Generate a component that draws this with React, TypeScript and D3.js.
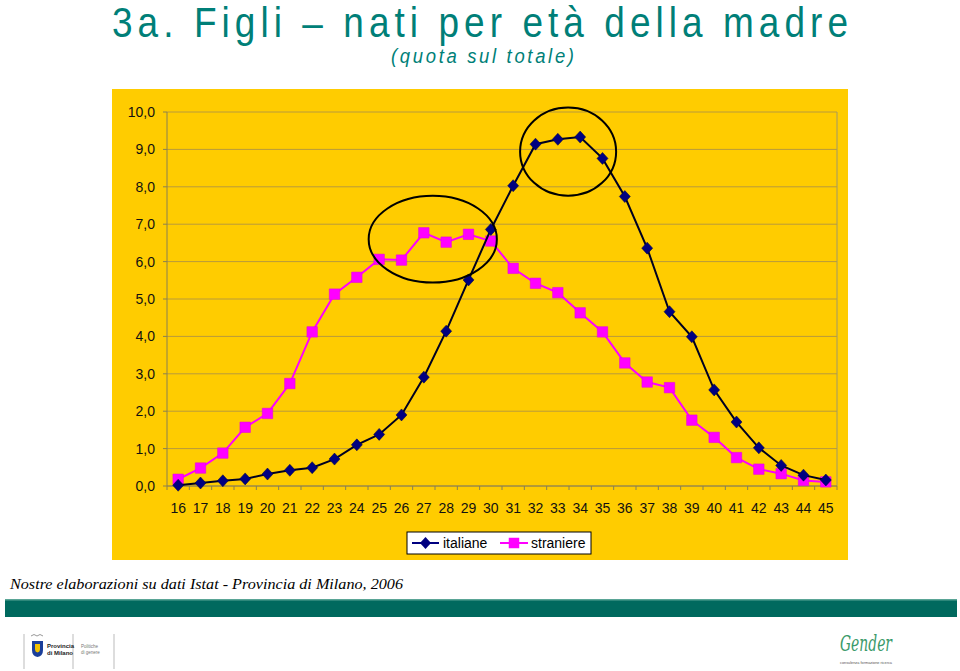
import React from "react";
import { scaleLinear, line, symbol, symbolSquare } from "d3";

const ages = [16, 17, 18, 19, 20, 21, 22, 23, 24, 25, 26, 27, 28, 29, 30, 31, 32, 33, 34, 35, 36, 37, 38, 39, 40, 41, 42, 43, 44, 45];
const italiane = [0.02, 0.08, 0.14, 0.19, 0.32, 0.42, 0.49, 0.72, 1.1, 1.38, 1.9, 2.91, 4.14, 5.51, 6.86, 8.03, 9.14, 9.27, 9.33, 8.76, 7.74, 6.36, 4.66, 3.99, 2.57, 1.71, 1.02, 0.55, 0.29, 0.16];
const straniere = [0.18, 0.48, 0.88, 1.57, 1.94, 2.74, 4.12, 5.13, 5.58, 6.06, 6.04, 6.77, 6.52, 6.73, 6.55, 5.82, 5.42, 5.17, 4.63, 4.12, 3.29, 2.78, 2.63, 1.76, 1.3, 0.76, 0.45, 0.33, 0.15, 0.11];
const yTicks = [0, 1, 2, 3, 4, 5, 6, 7, 8, 9, 10];
// hand-drawn circles: centre (age, value) and radii in the same units
const highlights = [
  { age: 27.4, value: 6.6, rAge: 2.87, rValue: 1.16 },
  { age: 33.46, value: 8.94, rAge: 2.15, rValue: 1.18 },
];

const W = 960;
const H = 671;
const plot = { left: 167, right: 837, top: 112, bottom: 486 };
const teal = "#007f78";
const yellow = "#ffcc00";
const grid = "#b89a3c";
const axisCol = "#8a8050";
const narrow = 0.88; // no Arial Narrow installed, so squeeze horizontally

const x = scaleLinear().domain([15.5, 45.5]).range([plot.left, plot.right]);
const y = scaleLinear().domain([0, 10]).range([plot.bottom, plot.top]);

const fmt = (v: number) => v.toFixed(1).replace(".", ",");
// Excel-like diamond marker, a little wider than d3's
const diamond = "M0,-6L5.5,0L0,6L-5.5,0Z";

export default function App() {
  const lineFn = line<number>()
    .x((_, i) => x(ages[i]))
    .y((d) => y(d));
  const square = symbol().type(symbolSquare).size(110)() as string;

  return (
    <svg
      width={W}
      height={H}
      style={{ position: "absolute", left: 0, top: 0, background: "#fff" }}
      fontFamily="'Liberation Sans', Arial, sans-serif"
    >
      <rect width={W} height={H} fill="#fff" />
      <g transform={`translate(112,37) scale(${narrow},1)`}>
        <text x={0} y={0} fontSize={42} fill={teal} textLength={736 / narrow} lengthAdjust="spacing">
          3a. Figli – nati per età della madre
        </text>
      </g>
      <g transform="translate(391,63) scale(0.88,1)">
        <text
          x={0}
          y={0}
          fontSize={21}
          fontStyle="italic"
          fill={teal}
          textLength={183 / 0.88}
          lengthAdjust="spacing"
        >
          (quota sul totale)
        </text>
      </g>

      <rect x={112} y={89} width={736} height={471} fill={yellow} />

      {yTicks.map((t) => (
        <g key={t}>
          <line x1={plot.left} x2={plot.right} y1={y(t)} y2={y(t)} stroke={grid} strokeWidth={1} />
          <line x1={plot.left - 4} x2={plot.left} y1={y(t)} y2={y(t)} stroke={axisCol} />
          <text x={155} y={y(t) + 5} fontSize={14} textAnchor="end" fill="#111">
            {fmt(t)}
          </text>
        </g>
      ))}
      <line x1={plot.left} x2={plot.left} y1={plot.top} y2={plot.bottom} stroke={axisCol} />
      <line x1={plot.right} x2={plot.right} y1={plot.top} y2={plot.bottom} stroke="#a09868" />
      <line x1={plot.left} x2={plot.right} y1={plot.bottom} y2={plot.bottom} stroke={axisCol} />
      {ages.map((a) => (
        <g key={a}>
          <line x1={x(a + 0.5)} x2={x(a + 0.5)} y1={plot.bottom} y2={plot.bottom + 4} stroke={axisCol} />
          <text x={x(a)} y={513} fontSize={14} textAnchor="middle" fill="#111">
            {a}
          </text>
        </g>
      ))}
      <line x1={plot.left} x2={plot.left} y1={plot.bottom} y2={plot.bottom + 4} stroke={axisCol} />

      <path d={lineFn(straniere) ?? ""} fill="none" stroke="#ff00ff" strokeWidth={2} />
      {straniere.map((v, i) => (
        <path key={i} d={square} transform={`translate(${x(ages[i])},${y(v)})`} fill="#ff00ff" stroke="#e000e0" strokeWidth={0.5} />
      ))}
      <path d={lineFn(italiane) ?? ""} fill="none" stroke="#000020" strokeWidth={2} />
      {italiane.map((v, i) => (
        <path key={i} d={diamond} transform={`translate(${x(ages[i])},${y(v)})`} fill="#000080" stroke="#000040" strokeWidth={0.5} />
      ))}

      {highlights.map((h, i) => (
        <ellipse
          key={i}
          cx={x(h.age)}
          cy={y(h.value)}
          rx={x(h.age + h.rAge) - x(h.age)}
          ry={y(h.value - h.rValue) - y(h.value)}
          fill="none"
          stroke="#000"
          strokeWidth={2}
        />
      ))}

      <g>
        <rect x={407} y={532} width={184} height={22} fill="#fff" stroke="#000" strokeWidth={1} />
        <line x1={412} x2={439} y1={543} y2={543} stroke="#000080" strokeWidth={2} />
        <path d={diamond} transform="translate(425.5,543)" fill="#000080" />
        <text x={443} y={548} fontSize={14} fill="#000">italiane</text>
        <line x1={500} x2={528} y1={543} y2={543} stroke="#ff00ff" strokeWidth={2} />
        <path d={square} transform="translate(514,543)" fill="#ff00ff" />
        <text x={531} y={548} fontSize={14} fill="#000">straniere</text>
      </g>

      <text
        x={10}
        y={589}
        fontSize={15}
        fontStyle="italic"
        fontFamily="'Liberation Serif', 'Times New Roman', serif"
        fill="#000"
        textLength={393}
        lengthAdjust="spacingAndGlyphs"
      >
        Nostre elaborazioni su dati Istat - Provincia di Milano, 2006
      </text>

      <rect x={5} y={599} width={952} height={18} fill="#00695e" />
      <rect x={5} y={599} width={952} height={1.5} fill="#5aa596" />

      {/* footer logos */}
      <g stroke="#bbb" strokeWidth={1}>
        <line x1={24} x2={24} y1={634} y2={669} />
        <line x1={73} x2={73} y1={634} y2={669} />
        <line x1={114} x2={114} y1={634} y2={669} />
      </g>
      <path d="M32,641 h11 v9 q0,6 -5.5,7 q-5.5,-1 -5.5,-7 z" fill="#1b3f9a" />
      <path d="M35,644 h5 v5 q0,3 -2.5,3.5 q-2.5,-0.5 -2.5,-3.5 z" fill="#f2c200" />
      <path d="M31,636 q3,-3 6,0 q3,-3 6,0" fill="none" stroke="#999" strokeWidth={1} />
      <text x={47} y={648} fontSize={6} fontWeight="bold" fill="#222">Provincia</text>
      <text x={47} y={655} fontSize={6} fontWeight="bold" fill="#222">di Milano</text>
      <text x={81} y={648} fontSize={4.5} fill="#777">Politiche</text>
      <text x={81} y={654} fontSize={4.5} fill="#777">di genere</text>
      <text
        x={840}
        y={651}
        fontSize={22}
        fontStyle="italic"
        fontFamily="'DejaVu Serif', serif"
        fill="#3a9a6a"
        textLength={52}
        lengthAdjust="spacingAndGlyphs"
      >
        Gender
      </text>
      <text x={840} y={664} fontSize={4} fill="#555" textLength={52} lengthAdjust="spacingAndGlyphs">
        consulenza formazione ricerca
      </text>
    </svg>
  );
}
